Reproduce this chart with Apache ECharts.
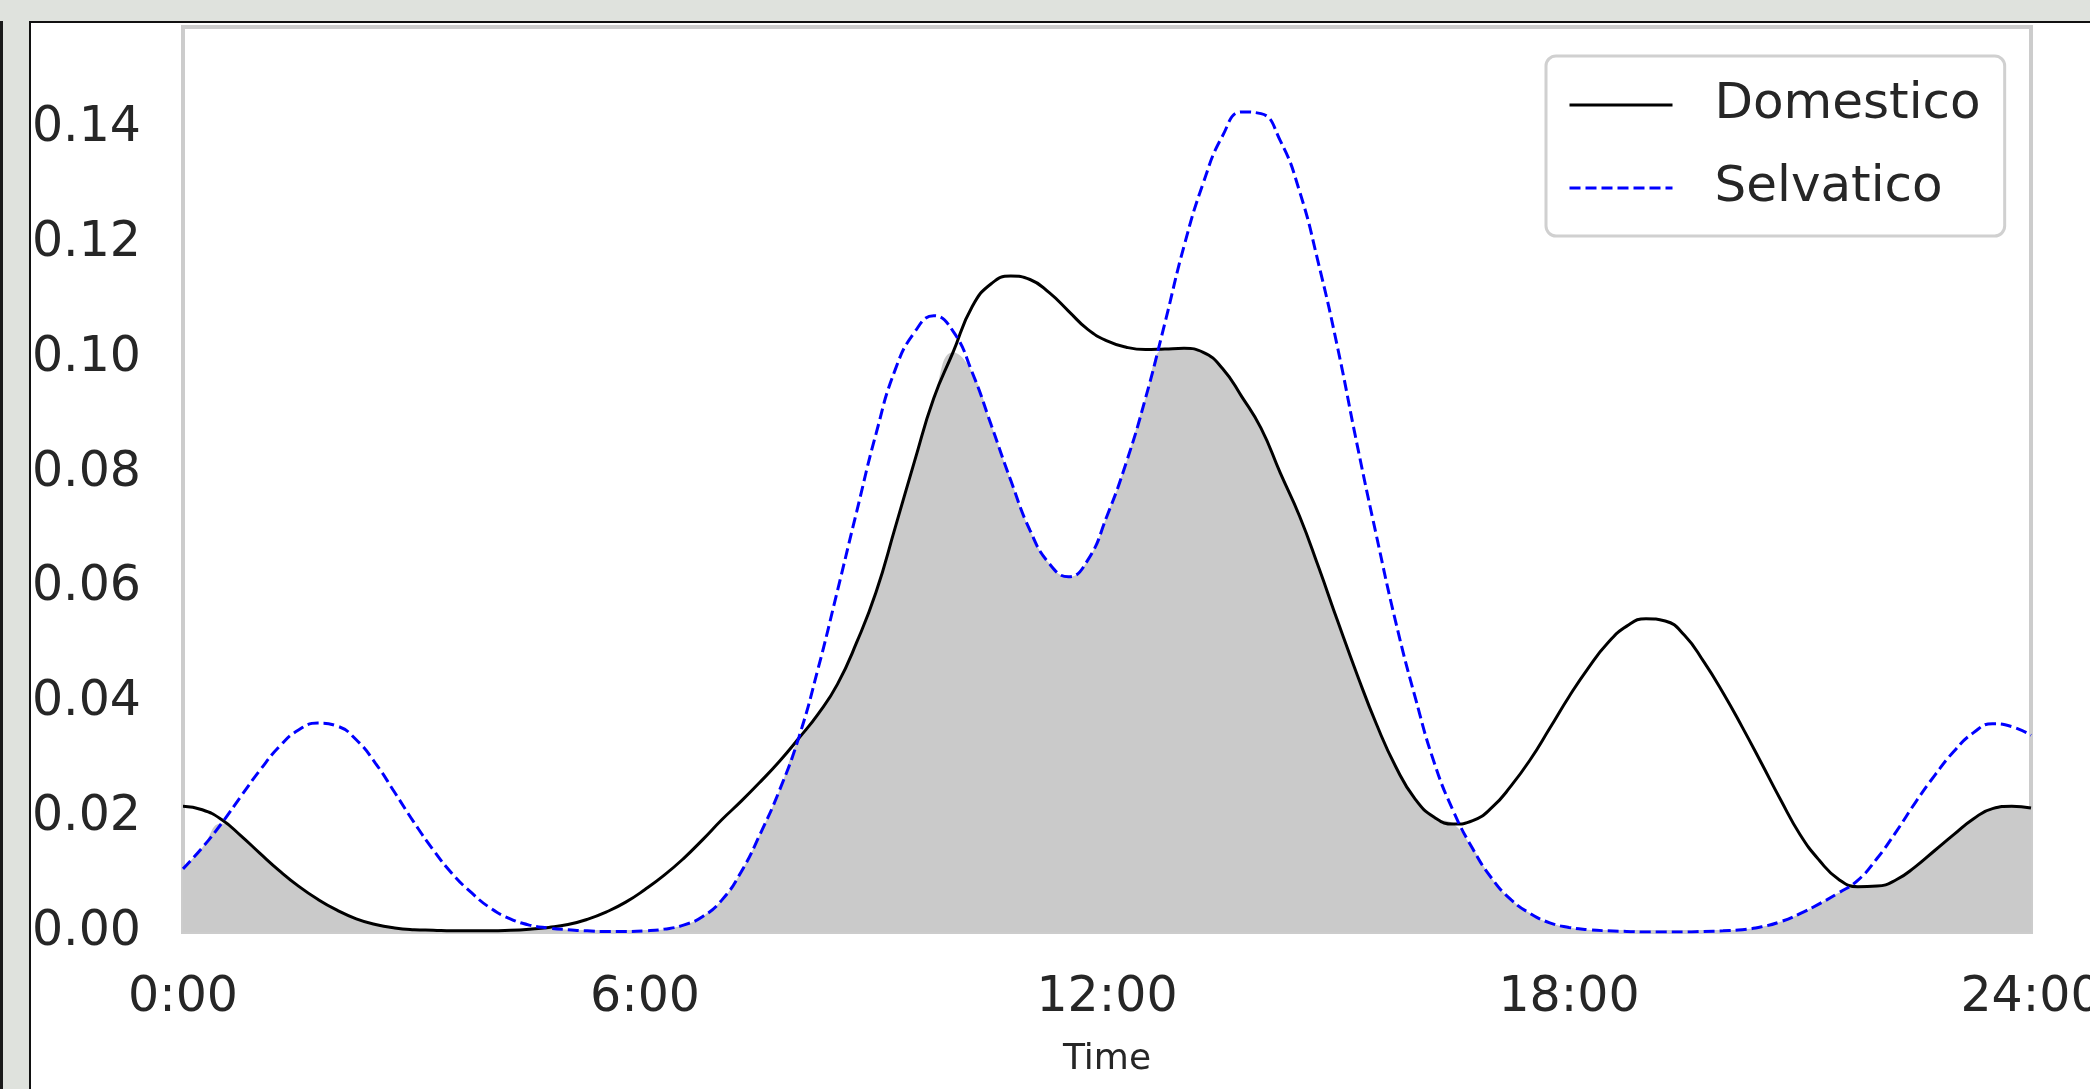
<!DOCTYPE html>
<html><head><meta charset="utf-8">
<script src="https://cdn.jsdelivr.net/npm/echarts@6/dist/echarts.min.js"></script>
<style>
html,body{margin:0;padding:0;background:#dfe2dd;width:2090px;height:1089px;overflow:hidden;}
#edge{position:absolute;left:0;top:21px;width:3px;bottom:0;background:#1a1a1a;}
#panel{position:absolute;left:29px;top:21px;right:0;bottom:0;background:#fff;border-left:2px solid #111;border-top:2px solid #111;}
#chart{position:absolute;left:0;top:0;width:2090px;height:1089px;}
</style></head><body>
<div id="edge"></div><div id="panel"></div><div id="chart"></div>
<script>
// hours of day at which the density curves were read (every quarter hour)
const hours = [
  0,0.25,0.5,0.75,1,1.25,1.5,1.75,2,2.25,2.5,2.75,
  3,3.25,3.5,3.75,4,4.25,4.5,4.75,5,5.25,5.5,5.75,
  6,6.25,6.5,6.75,7,7.25,7.5,7.75,8,8.25,8.5,8.75,
  9,9.25,9.5,9.75,10,10.25,10.5,10.75,11,11.25,11.5,11.75,
  12,12.25,12.5,12.75,13,13.25,13.5,13.75,14,14.25,14.5,14.75,
  15,15.25,15.5,15.75,16,16.25,16.5,16.75,17,17.25,17.5,17.75,
  18,18.25,18.5,18.75,19,19.25,19.5,19.75,20,20.25,20.5,20.75,
  21,21.25,21.5,21.75,22,22.25,22.5,22.75,23,23.25,23.5,23.75,
  24];
const domestico = [
  0.0219,0.0213,0.0196,0.0168,0.0137,0.0107,0.0080,0.0057,0.0038,0.0023,0.0013,0.0007,
  0.0004,0.0003,0.0002,0.0002,0.0002,0.0003,0.0005,0.0008,0.0013,0.0022,0.0035,0.0052,
  0.0074,0.0099,0.0128,0.0161,0.0196,0.0228,0.0262,0.0298,0.0338,0.0380,0.0432,0.0505,
  0.0592,0.0705,0.0820,0.0930,0.1010,0.1090,0.1130,0.1143,0.1137,0.1114,0.1082,0.1050,
  0.1030,0.1019,0.1015,0.1016,0.1017,0.1010,0.0982,0.0933,0.0878,0.0800,0.0725,0.0635,
  0.0540,0.0448,0.0362,0.0288,0.0232,0.0200,0.0188,0.0194,0.0217,0.0255,0.0301,0.0355,
  0.0410,0.0460,0.0503,0.0533,0.0546,0.0542,0.0517,0.0471,0.0417,0.0357,0.0294,0.0230,
  0.0170,0.0125,0.0092,0.0079,0.0080,0.0091,0.0114,0.0142,0.0170,0.0197,0.0215,0.0219,
  0.0216];
const selvatico = [
  0.0110,0.0147,0.0189,0.0236,0.0282,0.0323,0.0352,0.0364,0.0359,0.0335,0.0294,0.0243,
  0.0191,0.0143,0.0101,0.0068,0.0041,0.0023,0.0012,0.0007,0.0004,0.0002,0.0001,0.0001,
  0.0002,0.0005,0.0012,0.0027,0.0056,0.0105,0.0172,0.0248,0.0340,0.0460,0.0595,0.0733,
  0.0868,0.0980,0.1045,0.1074,0.1047,0.0975,0.0882,0.0787,0.0700,0.0642,0.0619,0.0648,
  0.0725,0.0818,0.0930,0.1060,0.1195,0.1305,0.1387,0.1429,0.1426,0.1379,0.1291,0.1163,
  0.1015,0.0848,0.0690,0.0540,0.0410,0.0295,0.0210,0.0145,0.0093,0.0056,0.0032,0.0016,
  0.0008,0.0004,0.0002,0.0001,0.0000,0.0000,0.0000,0.0001,0.0002,0.0004,0.0009,0.0018,
  0.0032,0.0049,0.0068,0.0090,0.0128,0.0175,0.0226,0.0273,0.0315,0.0347,0.0363,0.0358,
  0.0343];
const seriesNames = ['Domestico','Selvatico'];
const xTickLabels = ['0:00','6:00','12:00','18:00','24:00'];
const yTickLabels = ['0.00','0.02','0.04','0.06','0.08','0.10','0.12','0.14'];

const overlap = hours.map((h,i)=>[h, Math.min(domestico[i], selvatico[i])]);
const font = 'DejaVu Sans';
const chart = echarts.init(document.getElementById('chart'));
chart.setOption({
  animation:false,
  backgroundColor:'transparent',
  grid:{left:183, top:27, right:59, bottom:157, show:true, borderColor:'#cccccc', borderWidth:4,
        backgroundColor:'transparent', containLabel:false, outerBoundsMode:'none'},
  legend:{
    data:seriesNames, orient:'vertical', left:1546, top:56,
    padding:[24,24,23,22], itemGap:33, itemWidth:103, itemHeight:20,
    backgroundColor:'rgba(255,255,255,0.8)', borderColor:'#d0d0d0', borderWidth:3, borderRadius:10,
    itemStyle:{opacity:0}, lineStyle:{width:3},
    textStyle:{fontFamily:font, fontSize:50, color:'#262626', padding:[0,0,0,37]}
  },
  xAxis:{
    type:'value', min:0, max:24, interval:6,
    name:'Time', nameLocation:'middle', nameGap:110,
    nameTextStyle:{fontFamily:font, fontSize:36, color:'#262626'},
    axisLine:{show:false}, axisTick:{show:false}, splitLine:{show:false},
    axisLabel:{fontFamily:font, fontSize:49, color:'#262626', margin:42, hideOverlap:false,
      formatter:(v)=>xTickLabels[Math.round(v/6)]}
  },
  yAxis:{
    type:'value', min:0, max:0.1577, interval:0.02,
    axisLine:{show:false}, axisTick:{show:false}, splitLine:{show:false},
    axisLabel:{fontFamily:font, fontSize:49, color:'#262626', margin:42, showMaxLabel:false,
      formatter:(v)=>{const k=Math.round(v/0.02); return k < yTickLabels.length && Math.abs(v-k*0.02)<1e-6 ? yTickLabels[k] : '';}}
  },
  series:[
    {name:'overlap', type:'line', data:overlap, smooth:0.5, symbol:'none', silent:true,
     lineStyle:{width:0}, areaStyle:{color:'#cacaca', opacity:1}, z:1},
    {name:seriesNames[0], type:'line', data:hours.map((h,i)=>[h,domestico[i]]), smooth:0.5, symbol:'none',
     lineStyle:{color:'#000000', width:3}, itemStyle:{color:'#000000'}, z:3},
    {name:seriesNames[1], type:'line', data:hours.map((h,i)=>[h,selvatico[i]]), smooth:0.5, symbol:'none',
     lineStyle:{color:'#0000ff', width:3, type:[11,5]}, itemStyle:{color:'#0000ff'}, z:4}
  ]
});
</script>
</body></html>
